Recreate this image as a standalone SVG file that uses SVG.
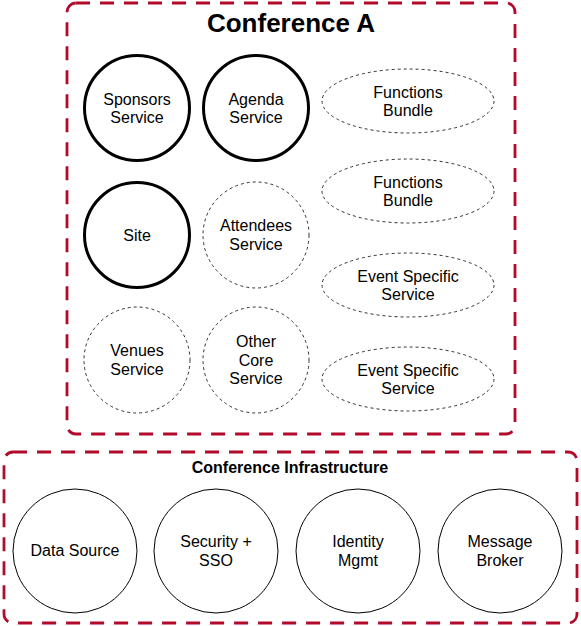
<svg xmlns="http://www.w3.org/2000/svg" width="581" height="626" viewBox="0 0 581 626">
<style>
.box{fill:none;stroke:#B20A2B;stroke-width:2.8;stroke-dasharray:14 10}
.thick{fill:#fff;stroke:#000;stroke-width:3}
.dash{fill:#fff;stroke:#333;stroke-width:1;stroke-dasharray:3 3}
.solid{fill:#fff;stroke:#000;stroke-width:1}
text{font-family:"Liberation Sans",Arial,Helvetica,sans-serif;font-size:16px;fill:#000;text-anchor:middle}
.title{font-size:26px;font-weight:bold}
.sub{font-size:16px;font-weight:bold}
</style>
<rect width="581" height="626" fill="#fff"/>
<g id="conference-a">
<rect class="box" x="67" y="3" width="448" height="431" rx="9"/>
<text class="title" x="291" y="32">Conference A</text>
</g>
<g id="conference-infrastructure">
<rect class="box" x="4" y="452" width="573" height="171" rx="9"/>
<text class="sub" x="290" y="473">Conference Infrastructure</text>
</g>
<g id="sponsors"><circle class="thick" cx="137" cy="108" r="52.5"/><text x="137" y="104.5">Sponsors</text><text x="137" y="123">Service</text></g>
<g id="agenda"><circle class="thick" cx="256" cy="108" r="52.5"/><text x="256" y="104.5">Agenda</text><text x="256" y="123">Service</text></g>
<g id="functions1"><ellipse class="dash" cx="408" cy="101" rx="86" ry="32"/><text x="408" y="97.5">Functions</text><text x="408" y="116">Bundle</text></g>
<g id="site"><circle class="thick" cx="137" cy="235" r="52.5"/><text x="137" y="240.5">Site</text></g>
<g id="attendees"><circle class="dash" cx="256" cy="235" r="53"/><text x="256" y="231">Attendees</text><text x="256" y="249.5">Service</text></g>
<g id="functions2"><ellipse class="dash" cx="408" cy="191" rx="86" ry="32"/><text x="408" y="187.5">Functions</text><text x="408" y="206">Bundle</text></g>
<g id="event1"><ellipse class="dash" cx="408" cy="285" rx="86" ry="32"/><text x="408" y="281.5">Event Specific</text><text x="408" y="300">Service</text></g>
<g id="venues"><circle class="dash" cx="137" cy="360" r="53"/><text x="137" y="356">Venues</text><text x="137" y="374.5">Service</text></g>
<g id="other-core"><circle class="dash" cx="256" cy="360" r="53"/><text x="256" y="347">Other</text><text x="256" y="365.5">Core</text><text x="256" y="384">Service</text></g>
<g id="event2"><ellipse class="dash" cx="408" cy="379" rx="86" ry="32"/><text x="408" y="375.5">Event Specific</text><text x="408" y="394">Service</text></g>
<g id="data-source"><circle class="solid" cx="75" cy="551" r="62"/><text x="75" y="556">Data Source</text></g>
<g id="security"><circle class="solid" cx="216" cy="551" r="62"/><text x="216" y="547">Security +</text><text x="216" y="566">SSO</text></g>
<g id="identity"><circle class="solid" cx="358" cy="551" r="62"/><text x="358" y="547">Identity</text><text x="358" y="566">Mgmt</text></g>
<g id="message-broker"><circle class="solid" cx="500" cy="551" r="62"/><text x="500" y="547">Message</text><text x="500" y="566">Broker</text></g>
<g id="connectors"></g>
</svg>
